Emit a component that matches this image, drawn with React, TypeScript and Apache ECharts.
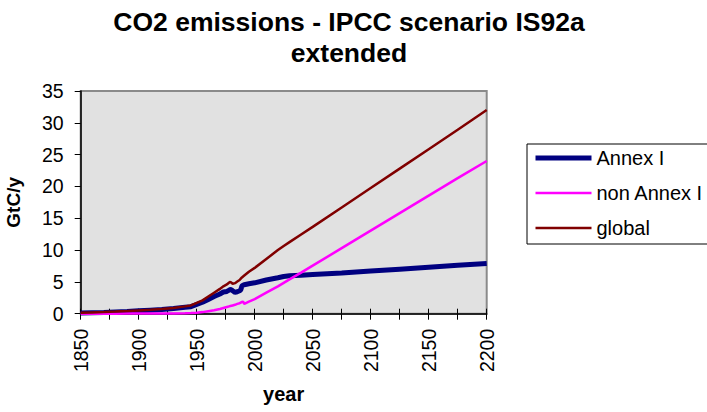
import React, { useEffect, useRef } from "react";
import * as echarts from "echarts";

const years = [
  1850, 1860, 1870, 1880, 1890, 1900, 1910, 1920, 1930, 1940, 1945, 1950, 1955, 1960, 1965, 1970,
  1973, 1976, 1978, 1979, 1980, 1981, 1983, 1985, 1987, 1988, 1989, 1990, 1991, 1995, 2000, 2010,
  2020, 2025, 2030, 2040, 2050, 2075, 2100, 2125, 2150, 2175, 2200,
];

const annexI = [
  0.1, 0.15, 0.2, 0.28, 0.35, 0.45, 0.55, 0.65, 0.8, 1.0, 1.1, 1.45, 1.8, 2.25, 2.7, 3.1,
  3.4, 3.5, 3.7, 3.8, 3.75, 3.6, 3.35, 3.45, 3.6, 3.75, 4.35, 4.5, 4.55, 4.7, 4.85, 5.3,
  5.65, 5.85, 5.95, 6.05, 6.15, 6.4, 6.7, 7.0, 7.3, 7.6, 7.9,
];

const nonAnnexI = [
  0.0, 0.0, 0.01, 0.01, 0.02, 0.02, 0.03, 0.04, 0.05, 0.08, 0.1, 0.15, 0.25, 0.4, 0.55, 0.75,
  0.9, 1.05, 1.15, 1.2, 1.25, 1.3, 1.4, 1.55, 1.65, 1.75, 1.85, 1.9, 1.55, 1.9, 2.3, 3.3,
  4.3, 4.85, 5.4, 6.45, 7.55, 10.3, 13.05, 15.8, 18.55, 21.3, 24.0,
];

const globalTotal = [
  0.15, 0.2, 0.25, 0.33, 0.42, 0.52, 0.62, 0.75, 0.9, 1.15, 1.3, 1.7, 2.1, 2.7, 3.3, 3.9,
  4.3, 4.6, 4.9, 5.0, 4.85, 4.7, 4.8, 5.05, 5.3, 5.5, 5.7, 5.85, 6.0, 6.6, 7.2, 8.6,
  10.0, 10.65, 11.25, 12.45, 13.65, 16.7, 19.75, 22.8, 25.85, 28.9, 32.0,
];

const seriesNames = ["Annex I", "non Annex I", "global"];
const titleLines = ["CO2 emissions - IPCC scenario IS92a", "extended"];

const FONT = "'Liberation Sans', Arial, Helvetica, sans-serif";

function pairs(vals: number[]) {
  return years.map((y, i) => [y, vals[i]]);
}

export default function App() {
  const ref = useRef<HTMLDivElement>(null);

  useEffect(() => {
    if (!ref.current) return;
    const chart = echarts.init(ref.current, null, { renderer: "svg" });
    const gridPos = { left: 80.7, top: 91, right: 220.3, bottom: 98.3 };
    chart.setOption({
      animation: false,
      backgroundColor: "#ffffff",
      textStyle: { fontFamily: FONT },
      graphic: [
        {
          type: "text",
          x: 349,
          y: 6,
          style: {
            text: titleLines.join("\n"),
            textAlign: "center",
            textVerticalAlign: "top",
            fontFamily: FONT,
            fontWeight: "bold",
            fontSize: 26.5,
            lineHeight: 31.6,
            fill: "#000",
          },
        },
      ],
      grid: {
        ...gridPos,
        show: true,
        backgroundColor: "#e1e1e1",
        borderColor: "#8a8a8a",
        borderWidth: 2,
        containLabel: false,
        outerBoundsMode: "none",
      },
      legend: {
        orient: "vertical",
        left: 527,
        top: 144,
        padding: [4, 6, 6, 6],
        itemWidth: 56,
        itemHeight: 14,
        itemGap: 15,
        borderColor: "#000",
        borderWidth: 1,
        backgroundColor: "#fff",
        textStyle: { fontSize: 20, color: "#000", fontFamily: FONT },
        data: [
          { name: seriesNames[0], lineStyle: { width: 5, color: "#000080" }, itemStyle: { opacity: 0 } },
          { name: seriesNames[1], lineStyle: { width: 2.5, color: "#ff00ff" }, itemStyle: { opacity: 0 } },
          { name: seriesNames[2], lineStyle: { width: 2.5, color: "#800000" }, itemStyle: { opacity: 0 } },
        ],
      },
      xAxis: [
        {
          type: "value",
          min: 1850,
          max: 2200,
          interval: 25,
          name: "year",
          nameLocation: "middle",
          nameGap: 70,
          nameTextStyle: { fontSize: 20, fontWeight: "bold", color: "#000", fontFamily: FONT },
          axisLine: { show: true, onZero: false, lineStyle: { color: "#000", width: 1.5 } },
          axisTick: { show: true, inside: false, length: 6, lineStyle: { color: "#000" } },
          axisLabel: {
            rotate: 90,
            margin: 15,
            fontSize: 19.5,
            color: "#000",
            fontFamily: FONT,
            formatter: (v: number) => (v % 50 === 0 ? String(v) : ""),
          },
          splitLine: { show: false },
        },
        {
          type: "value",
          min: 1850,
          max: 2200,
          interval: 25,
          position: "bottom",
          axisLine: { show: false },
          axisTick: { show: true, inside: true, length: 5, lineStyle: { color: "#000" } },
          axisLabel: { show: false },
          splitLine: { show: false },
        },
      ],
      yAxis: {
        type: "value",
        min: 0,
        max: 35,
        interval: 5,
        name: "GtC/y",
        nameLocation: "middle",
        nameRotate: 90,
        nameGap: 58,
        nameTextStyle: { fontSize: 19, fontWeight: "bold", color: "#000", fontFamily: FONT },
        axisLine: { show: true, lineStyle: { color: "#000", width: 1.5 } },
        axisTick: { show: true, length: 6, lineStyle: { color: "#000" } },
        axisLabel: { margin: 17, fontSize: 19.5, color: "#000", fontFamily: FONT },
        splitLine: { show: false },
      },
      series: [
        {
          name: seriesNames[0],
          type: "line",
          xAxisIndex: 0,
          data: pairs(annexI),
          symbol: "none",
          lineStyle: { color: "#000080", width: 5 },
          itemStyle: { color: "#000080" },
        },
        {
          name: seriesNames[1],
          type: "line",
          xAxisIndex: 0,
          data: pairs(nonAnnexI),
          symbol: "none",
          lineStyle: { color: "#ff00ff", width: 2.5 },
          itemStyle: { color: "#ff00ff" },
        },
        {
          name: seriesNames[2],
          type: "line",
          xAxisIndex: 0,
          data: pairs(globalTotal),
          symbol: "none",
          lineStyle: { color: "#800000", width: 2.5 },
          itemStyle: { color: "#800000" },
        },
      ],
    });
    return () => chart.dispose();
  }, []);

  return (
    <div
      ref={ref}
      style={{ position: "fixed", left: 0, top: 0, width: 707, height: 412 }}
    />
  );
}
